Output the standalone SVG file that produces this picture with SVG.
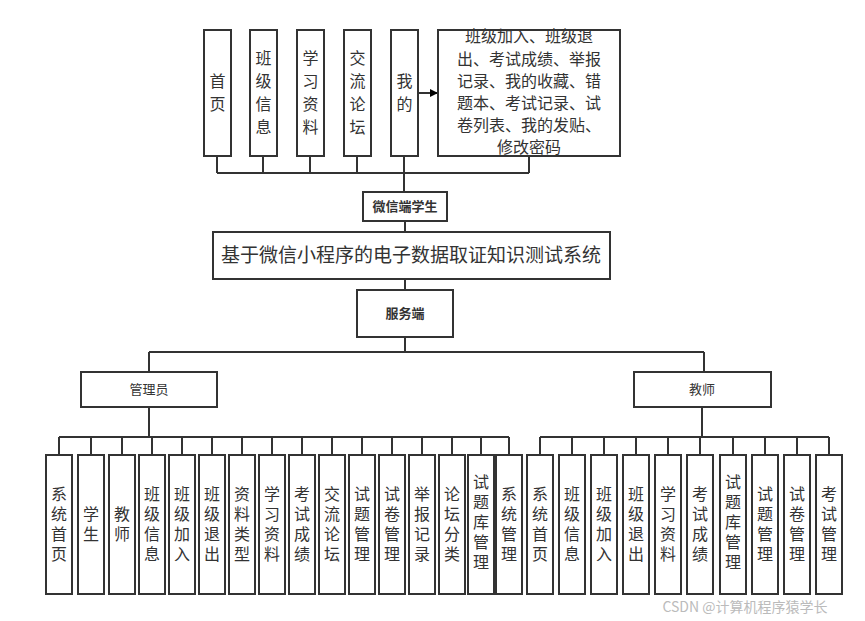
<svg xmlns="http://www.w3.org/2000/svg" width="865" height="621" viewBox="0 0 865 621">
<style>
rect{fill:#fff;stroke:#333;stroke-width:2}
.c line{stroke:#333;stroke-width:2}
text{font-family:"Noto Sans CJK SC",sans-serif;fill:#333;text-anchor:middle}
.v{font-size:16px}
.s{font-size:13px}
</style>
<defs><marker id="a" markerWidth="8" markerHeight="8" refX="7" refY="4" orient="auto" markerUnits="userSpaceOnUse"><path d="M0,0L8,4L0,8z" fill="#000"/></marker></defs>
<rect width="865" height="621" style="fill:#fff;stroke:none"/>
<g class="c">
<line x1="217" y1="173" x2="529" y2="173"/>
<line x1="217" y1="156" x2="217" y2="173"/><line x1="263" y1="156" x2="263" y2="173"/><line x1="310" y1="156" x2="310" y2="173"/><line x1="357" y1="156" x2="357" y2="173"/><line x1="404" y1="156" x2="404" y2="192"/><line x1="529" y1="156" x2="529" y2="173"/>
<line x1="418" y1="93" x2="437" y2="93" marker-end="url(#a)"/>
<line x1="405" y1="221" x2="405" y2="232"/><line x1="405" y1="279" x2="405" y2="290"/><line x1="405" y1="337" x2="405" y2="352"/>
<line x1="149" y1="352" x2="704" y2="352"/><line x1="149" y1="352" x2="149" y2="372"/><line x1="704" y1="352" x2="704" y2="372"/>
<line x1="149" y1="407" x2="149" y2="437"/><line x1="59" y1="437" x2="509" y2="437"/>
<line x1="702" y1="407" x2="702" y2="437"/><line x1="540" y1="437" x2="829" y2="437"/>
<line x1="59" y1="437" x2="59" y2="455"/><line x1="91" y1="437" x2="91" y2="455"/><line x1="122" y1="437" x2="122" y2="455"/><line x1="152" y1="437" x2="152" y2="455"/><line x1="182" y1="437" x2="182" y2="455"/><line x1="212" y1="437" x2="212" y2="455"/><line x1="242" y1="437" x2="242" y2="455"/><line x1="272" y1="437" x2="272" y2="455"/><line x1="302" y1="437" x2="302" y2="455"/><line x1="332" y1="437" x2="332" y2="455"/><line x1="362" y1="437" x2="362" y2="455"/><line x1="392" y1="437" x2="392" y2="455"/><line x1="422" y1="437" x2="422" y2="455"/><line x1="452" y1="437" x2="452" y2="455"/><line x1="481" y1="437" x2="481" y2="455"/><line x1="509" y1="437" x2="509" y2="455"/>
<line x1="540" y1="437" x2="540" y2="455"/><line x1="572" y1="437" x2="572" y2="455"/><line x1="604" y1="437" x2="604" y2="455"/><line x1="636" y1="437" x2="636" y2="455"/><line x1="668" y1="437" x2="668" y2="455"/><line x1="700" y1="437" x2="700" y2="455"/><line x1="733" y1="437" x2="733" y2="455"/><line x1="765" y1="437" x2="765" y2="455"/><line x1="797" y1="437" x2="797" y2="455"/><line x1="829" y1="437" x2="829" y2="455"/>
</g>
<g id="n-home"><rect x="204" y="30" width="27" height="126"/><text class="v" x="217.5"><tspan x="217.5" y="87">首</tspan><tspan x="217.5" y="110">页</tspan></text></g>
<g id="n-bjxx"><rect x="250" y="30" width="27" height="126"/><text class="v"><tspan x="263.5" y="64">班</tspan><tspan x="263.5" y="87">级</tspan><tspan x="263.5" y="110">信</tspan><tspan x="263.5" y="133">息</tspan></text></g>
<g id="n-xxzl"><rect x="297" y="30" width="27" height="126"/><text class="v"><tspan x="310.5" y="64">学</tspan><tspan x="310.5" y="87">习</tspan><tspan x="310.5" y="110">资</tspan><tspan x="310.5" y="133">料</tspan></text></g>
<g id="n-jllt"><rect x="344" y="30" width="27" height="126"/><text class="v"><tspan x="357.5" y="64">交</tspan><tspan x="357.5" y="87">流</tspan><tspan x="357.5" y="110">论</tspan><tspan x="357.5" y="133">坛</tspan></text></g>
<g id="n-wode"><rect x="391" y="30" width="27" height="126"/><text class="v"><tspan x="404.5" y="87">我</tspan><tspan x="404.5" y="110">的</tspan></text></g>
<g id="n-list"><rect x="438" y="30" width="182" height="126"/><text class="v"><tspan x="529" y="42">班级加入、班级退</tspan><tspan x="529" y="65">出、考试成绩、举报</tspan><tspan x="529" y="87">记录、我的收藏、错</tspan><tspan x="529" y="109">题本、考试记录、试</tspan><tspan x="529" y="131">卷列表、我的发贴、</tspan><tspan x="529" y="153">修改密码</tspan></text></g>
<g id="n-student"><rect x="363" y="192" width="84" height="29"/><text class="s" x="405" y="211" font-weight="bold">微信端学生</text></g>
<g id="n-system"><rect x="213" y="232" width="397" height="47"/><text x="411" y="262" font-size="19">基于微信小程序的电子数据取证知识测试系统</text></g>
<g id="n-server"><rect x="357" y="290" width="96" height="47"/><text class="s" x="405" y="318" font-weight="bold">服务端</text></g>
<g id="n-admin"><rect x="81" y="372" width="136" height="35"/><text class="s" x="149" y="394">管理员</text></g>
<g id="n-teacher"><rect x="634" y="372" width="137" height="35"/><text class="s" x="702" y="394">教师</text></g>
<g id="admin-items" class="v">
<g id="a1"><rect x="46" y="455" width="26" height="139"/><text><tspan x="59" y="500">系</tspan><tspan x="59" y="520">统</tspan><tspan x="59" y="540">首</tspan><tspan x="59" y="560">页</tspan></text></g>
<g id="a2"><rect x="78" y="455" width="26" height="139"/><text><tspan x="91" y="520">学</tspan><tspan x="91" y="540">生</tspan></text></g>
<g id="a3"><rect x="109" y="455" width="26" height="139"/><text><tspan x="122" y="520">教</tspan><tspan x="122" y="540">师</tspan></text></g>
<g id="a4"><rect x="139" y="455" width="26" height="139"/><text><tspan x="152" y="500">班</tspan><tspan x="152" y="520">级</tspan><tspan x="152" y="540">信</tspan><tspan x="152" y="560">息</tspan></text></g>
<g id="a5"><rect x="169" y="455" width="26" height="139"/><text><tspan x="182" y="500">班</tspan><tspan x="182" y="520">级</tspan><tspan x="182" y="540">加</tspan><tspan x="182" y="560">入</tspan></text></g>
<g id="a6"><rect x="199" y="455" width="26" height="139"/><text><tspan x="212" y="500">班</tspan><tspan x="212" y="520">级</tspan><tspan x="212" y="540">退</tspan><tspan x="212" y="560">出</tspan></text></g>
<g id="a7"><rect x="229" y="455" width="26" height="139"/><text><tspan x="242" y="500">资</tspan><tspan x="242" y="520">料</tspan><tspan x="242" y="540">类</tspan><tspan x="242" y="560">型</tspan></text></g>
<g id="a8"><rect x="259" y="455" width="26" height="139"/><text><tspan x="272" y="500">学</tspan><tspan x="272" y="520">习</tspan><tspan x="272" y="540">资</tspan><tspan x="272" y="560">料</tspan></text></g>
<g id="a9"><rect x="289" y="455" width="26" height="139"/><text><tspan x="302" y="500">考</tspan><tspan x="302" y="520">试</tspan><tspan x="302" y="540">成</tspan><tspan x="302" y="560">绩</tspan></text></g>
<g id="a10"><rect x="319" y="455" width="26" height="139"/><text><tspan x="332" y="500">交</tspan><tspan x="332" y="520">流</tspan><tspan x="332" y="540">论</tspan><tspan x="332" y="560">坛</tspan></text></g>
<g id="a11"><rect x="349" y="455" width="26" height="139"/><text><tspan x="362" y="500">试</tspan><tspan x="362" y="520">题</tspan><tspan x="362" y="540">管</tspan><tspan x="362" y="560">理</tspan></text></g>
<g id="a12"><rect x="379" y="455" width="26" height="139"/><text><tspan x="392" y="500">试</tspan><tspan x="392" y="520">卷</tspan><tspan x="392" y="540">管</tspan><tspan x="392" y="560">理</tspan></text></g>
<g id="a13"><rect x="409" y="455" width="26" height="139"/><text><tspan x="422" y="500">举</tspan><tspan x="422" y="520">报</tspan><tspan x="422" y="540">记</tspan><tspan x="422" y="560">录</tspan></text></g>
<g id="a14"><rect x="439" y="455" width="26" height="139"/><text><tspan x="452" y="500">论</tspan><tspan x="452" y="520">坛</tspan><tspan x="452" y="540">分</tspan><tspan x="452" y="560">类</tspan></text></g>
<g id="a15"><rect x="468" y="455" width="26" height="139"/><text><tspan x="481" y="488">试</tspan><tspan x="481" y="508">题</tspan><tspan x="481" y="528">库</tspan><tspan x="481" y="548">管</tspan><tspan x="481" y="568">理</tspan></text></g>
<g id="a16"><rect x="496" y="455" width="26" height="139"/><text><tspan x="509" y="500">系</tspan><tspan x="509" y="520">统</tspan><tspan x="509" y="540">管</tspan><tspan x="509" y="560">理</tspan></text></g>
</g>
<g id="teacher-items" class="v">
<g id="t1"><rect x="527" y="455" width="26" height="139"/><text><tspan x="540" y="500">系</tspan><tspan x="540" y="520">统</tspan><tspan x="540" y="540">首</tspan><tspan x="540" y="560">页</tspan></text></g>
<g id="t2"><rect x="559" y="455" width="26" height="139"/><text><tspan x="572" y="500">班</tspan><tspan x="572" y="520">级</tspan><tspan x="572" y="540">信</tspan><tspan x="572" y="560">息</tspan></text></g>
<g id="t3"><rect x="591" y="455" width="26" height="139"/><text><tspan x="604" y="500">班</tspan><tspan x="604" y="520">级</tspan><tspan x="604" y="540">加</tspan><tspan x="604" y="560">入</tspan></text></g>
<g id="t4"><rect x="623" y="455" width="26" height="139"/><text><tspan x="636" y="500">班</tspan><tspan x="636" y="520">级</tspan><tspan x="636" y="540">退</tspan><tspan x="636" y="560">出</tspan></text></g>
<g id="t5"><rect x="655" y="455" width="26" height="139"/><text><tspan x="668" y="500">学</tspan><tspan x="668" y="520">习</tspan><tspan x="668" y="540">资</tspan><tspan x="668" y="560">料</tspan></text></g>
<g id="t6"><rect x="687" y="455" width="26" height="139"/><text><tspan x="700" y="500">考</tspan><tspan x="700" y="520">试</tspan><tspan x="700" y="540">成</tspan><tspan x="700" y="560">绩</tspan></text></g>
<g id="t7"><rect x="720" y="455" width="26" height="139"/><text><tspan x="733" y="488">试</tspan><tspan x="733" y="508">题</tspan><tspan x="733" y="528">库</tspan><tspan x="733" y="548">管</tspan><tspan x="733" y="568">理</tspan></text></g>
<g id="t8"><rect x="752" y="455" width="26" height="139"/><text><tspan x="765" y="500">试</tspan><tspan x="765" y="520">题</tspan><tspan x="765" y="540">管</tspan><tspan x="765" y="560">理</tspan></text></g>
<g id="t9"><rect x="784" y="455" width="26" height="139"/><text><tspan x="797" y="500">试</tspan><tspan x="797" y="520">卷</tspan><tspan x="797" y="540">管</tspan><tspan x="797" y="560">理</tspan></text></g>
<g id="t10"><rect x="816" y="455" width="26" height="139"/><text><tspan x="829" y="500">考</tspan><tspan x="829" y="520">试</tspan><tspan x="829" y="540">管</tspan><tspan x="829" y="560">理</tspan></text></g>
</g>
<text x="745" y="612" font-size="14" style="fill:#bbb">CSDN @计算机程序猿学长</text>
</svg>
